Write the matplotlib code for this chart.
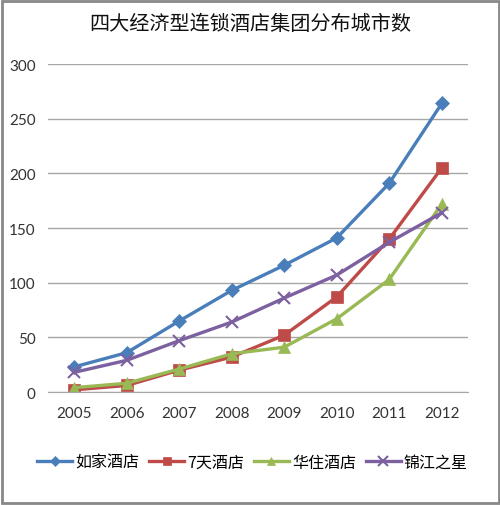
import matplotlib
matplotlib.use('Agg')
import matplotlib.pyplot as plt

years = ['2005', '2006', '2007', '2008', '2009', '2010', '2011', '2012']
rujia = [23, 36, 65, 93, 116, 141, 191, 264]
qitian = [2, 6, 20, 32, 52, 87, 140, 205]
huazhu = [4, 8, 21, 35, 41, 67, 103, 172]
jinjiang = [18, 29, 47, 64, 86, 107, 137, 164]
names = ['如家酒店', '7天酒店', '华住酒店', '锦江之星']

plt.rcParams['font.family'] = ['Noto Sans CJK SC', 'DejaVu Sans']

fig = plt.figure(figsize=(5, 5.06), dpi=100)
ax = fig.add_axes([0.096, 0.2233, 0.84, 0.648])

x = range(len(years))
series = [
    (rujia, '#4A7EBB', 'D', 7),
    (qitian, '#BE4B48', 's', 8),
    (huazhu, '#98B954', '^', 8),
    (jinjiang, '#7D60A0', 'x', 9),
]
for (vals, col, mk, ms), name in zip(series, names):
    ax.plot(x, vals, color=col, lw=2.4, marker=mk, markersize=ms,
            markeredgewidth=1.5 if mk == 'x' else 0.5, markeredgecolor=col,
            label=name)

ax.set_xlim(-0.5, len(years) - 0.5)
ax.set_ylim(0, 300)
ax.set_yticks(range(0, 301, 50))
ax.set_xticks(list(x))
ax.set_xticklabels(years)
ax.grid(axis='y', color='#A6A6A6', lw=1)
ax.set_axisbelow(True)
for s in ['top', 'right', 'left']:
    ax.spines[s].set_visible(False)
ax.spines['bottom'].set_color('#A6A6A6')
ax.tick_params(length=0, labelsize=11, colors='#333333')
ax.tick_params(axis='x', pad=10)
ax.tick_params(axis='y', pad=9)
for lab in ax.get_xticklabels() + ax.get_yticklabels():
    lab.set_family(['Lato', 'DejaVu Sans'])

fig.text(0.5, 0.952, '四大经济型连锁酒店集团分布城市数', ha='center', va='center',
         fontsize=14.5, color='#111111')

fig.legend(loc='center', bbox_to_anchor=(0.505, 0.085), ncol=4, frameon=False,
           fontsize=11.5, handlelength=2.2, handletextpad=0.2, columnspacing=0.6,
           markerscale=0.8)

fig.patches.append(plt.Rectangle((0.003, 0.003), 0.994, 0.994, transform=fig.transFigure,
                                 fill=False, edgecolor='#888888', lw=2))

fig.savefig('out.png', dpi=100)
